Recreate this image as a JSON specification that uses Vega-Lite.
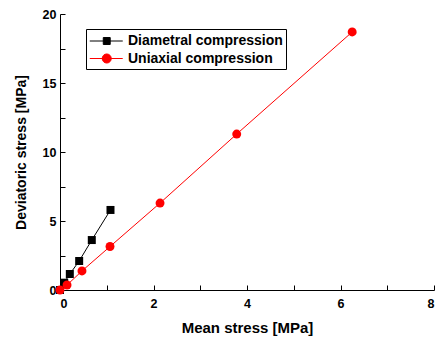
{
  "$schema": "https://vega.github.io/schema/vega-lite/v6.json",
  "width": 374,
  "height": 276,
  "autosize": "none",
  "padding": {"left": 60, "top": 14, "right": 7, "bottom": 52},
  "background": "white",
  "config": {
    "view": {"stroke": null},
    "font": "Liberation Sans",
    "axis": {
      "grid": false,
      "domainColor": "black",
      "tickColor": "black",
      "labelColor": "black",
      "titleColor": "black",
      "labelFont": "Liberation Sans",
      "labelFontWeight": "bold",
      "labelFontSize": 12.5,
      "titleFont": "Liberation Sans",
      "titleFontWeight": "bold",
      "titleFontSize": 14,
      "tickSize": -5
    }
  },
  "data": {
    "values": [
      {"series": "Diametral compression", "mean": 0, "dev": 0},
      {"series": "Diametral compression", "mean": 0.09, "dev": 0.53},
      {"series": "Diametral compression", "mean": 0.21, "dev": 1.16},
      {"series": "Diametral compression", "mean": 0.41, "dev": 2.1},
      {"series": "Diametral compression", "mean": 0.68, "dev": 3.62},
      {"series": "Diametral compression", "mean": 1.08, "dev": 5.8},
      {"series": "Uniaxial compression", "mean": 0, "dev": 0},
      {"series": "Uniaxial compression", "mean": 0.15, "dev": 0.36},
      {"series": "Uniaxial compression", "mean": 0.47, "dev": 1.38},
      {"series": "Uniaxial compression", "mean": 1.07, "dev": 3.15},
      {"series": "Uniaxial compression", "mean": 2.14, "dev": 6.3},
      {"series": "Uniaxial compression", "mean": 3.78, "dev": 11.3},
      {"series": "Uniaxial compression", "mean": 6.25, "dev": 18.7}
    ]
  },
  "encoding": {
    "x": {
      "field": "mean", "type": "quantitative",
      "scale": {"domain": [0, 8], "nice": false, "zero": false},
      "axis": {
        "title": "Mean stress [MPa]",
        "titleFontSize": 15,
        "values": [0, 1, 2, 3, 4, 5, 6, 7, 8],
        "labelExpr": "datum.value % 2 === 0 ? datum.label : ''",
        "labelPadding": 12,
        "titlePadding": 11,
        "encode": {"ticks": {"update": {"y2": {"signal": "datum.value % 2 === 0 ? -5 : -3"}}}}
      }
    },
    "y": {
      "field": "dev", "type": "quantitative",
      "scale": {"domain": [0, 20], "nice": false, "zero": false},
      "axis": {
        "title": "Deviatoric stress [MPa]",
        "values": [0, 2.5, 5, 7.5, 10, 12.5, 15, 17.5, 20],
        "labelExpr": "datum.value % 5 === 0 ? datum.label : ''",
        "labelPadding": 9,
        "titlePadding": 14,
        "encode": {"ticks": {"update": {"x2": {"signal": "datum.value % 5 === 0 ? 5 : 3"}}}}
      }
    },
    "color": {
      "field": "series", "type": "nominal",
      "scale": {"domain": ["Diametral compression", "Uniaxial compression"], "range": ["#000000", "#ff0000"]},
      "legend": {
        "title": null,
        "orient": "none",
        "legendX": 26,
        "legendY": 15,
        "strokeColor": "black",
        "padding": 3,
        "labelFont": "Liberation Sans",
        "labelFontWeight": "bold",
        "labelFontSize": 14,
        "labelColor": "black",
        "labelOffset": 21,
        "symbolSize": 272,
        "rowPadding": 1.5,
        "encode": {
          "symbols": {
            "update": {
              "shape": {"signal": "datum.value === 'Diametral compression' ? 'M-1,0H3M0.64,-0.42H1.48V0.42H0.64Z' : 'M-1,0H3M1.61,0A0.55,0.55,0,1,1,0.51,0A0.55,0.55,0,1,1,1.61,0Z'"},
              "fill": {"signal": "datum.value === 'Diametral compression' ? 'black' : 'red'"},
              "stroke": {"signal": "datum.value === 'Diametral compression' ? 'black' : 'red'"},
              "strokeWidth": {"value": 1},
              "opacity": {"value": 1}
            }
          }
        }
      }
    }
  },
  "layer": [
    {
      "mark": {"type": "line", "strokeWidth": 1},
      "encoding": {"detail": {"field": "series"}}
    },
    {
      "transform": [{"filter": "datum.series === 'Diametral compression'"}],
      "mark": {"type": "point", "shape": "square", "filled": true, "opacity": 1, "size": 64}
    },
    {
      "transform": [{"filter": "datum.series === 'Uniaxial compression'"}],
      "mark": {"type": "point", "shape": "circle", "filled": true, "opacity": 1, "size": 80}
    }
  ]
}
